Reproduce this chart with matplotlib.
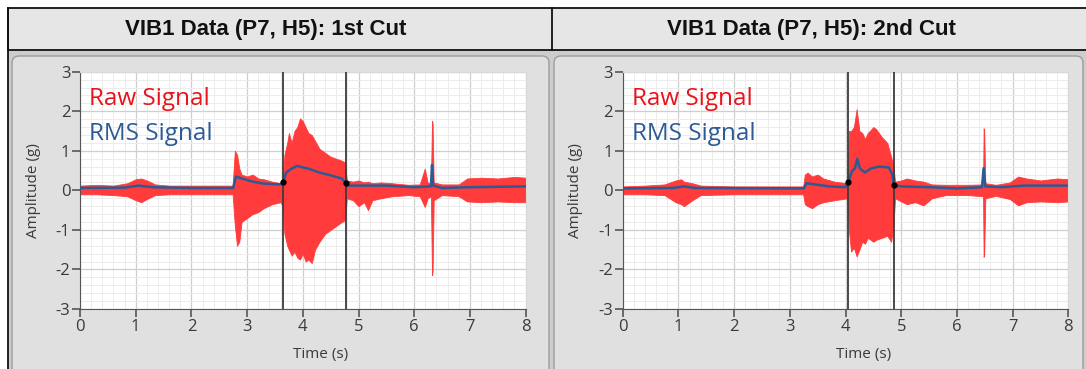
import matplotlib
matplotlib.use("Agg")
import matplotlib.pyplot as plt
import numpy as np
from matplotlib.patches import Rectangle, FancyBboxPatch
from matplotlib.ticker import MultipleLocator

plt.rcParams["axes.unicode_minus"] = False

# ---- data (envelope of raw signal + RMS trace) ----
titles = ["VIB1 Data (P7, H5): 1st Cut", "VIB1 Data (P7, H5): 2nd Cut"]

raw1_t = [0.00, 0.30, 0.60, 0.85, 1.00, 1.10, 1.20, 1.35, 1.60, 2.00, 2.40, 2.74,
          2.78, 2.82, 2.86, 2.90, 3.00, 3.10, 3.20, 3.30, 3.45, 3.60, 3.64, 3.67,
          3.72, 3.75, 3.80, 3.85, 3.90, 3.95, 4.00, 4.05, 4.10, 4.16, 4.22, 4.30,
          4.40, 4.50, 4.60, 4.70, 4.76, 4.79, 4.90, 5.00, 5.10, 5.17, 5.25, 5.40,
          5.60, 5.90, 6.10, 6.19, 6.24, 6.30, 6.32, 6.33, 6.35, 6.50, 6.80, 6.95,
          7.20, 7.50, 7.80, 8.00]
raw1_hi = [0.12, 0.14, 0.12, 0.18, 0.28, 0.30, 0.25, 0.15, 0.12, 0.12, 0.12, 0.12,
           1.00, 0.90, 0.55, 0.40, 0.35, 0.40, 0.30, 0.28, 0.22, 0.18, 0.20, 0.90,
           1.20, 1.45, 1.20, 1.50, 1.60, 1.82, 1.75, 1.60, 1.45, 1.40, 1.25, 1.05,
           0.95, 0.85, 0.80, 0.75, 0.70, 0.25, 0.22, 0.25, 0.20, 0.22, 0.18, 0.20,
           0.18, 0.14, 0.15, 0.55, 0.20, 0.15, 1.76, 1.70, 0.20, 0.15, 0.15, 0.30,
           0.32, 0.30, 0.34, 0.32]
raw1_lo = [-0.10, -0.10, -0.12, -0.15, -0.25, -0.30, -0.22, -0.12, -0.10, -0.10, -0.10, -0.10,
           -0.90, -1.40, -1.30, -0.80, -0.70, -0.60, -0.55, -0.45, -0.35, -0.30, -0.40, -1.10,
           -1.40, -1.50, -1.65, -1.55, -1.70, -1.75, -1.60, -1.80, -1.75, -1.84, -1.50, -1.30,
           -1.10, -1.00, -0.90, -0.80, -0.75, -0.20, -0.25, -0.40, -0.30, -0.50, -0.25, -0.20,
           -0.15, -0.12, -0.15, -0.42, -0.20, -0.15, -2.14, -2.05, -0.25, -0.12, -0.15, -0.28,
           -0.30, -0.28, -0.30, -0.30]

rms1_t = [0.0, 0.8, 1.05, 1.3, 2.0, 2.75, 2.80, 2.9, 3.1, 3.3, 3.6, 3.65, 3.7, 3.8, 3.9,
          4.0, 4.1, 4.3, 4.5, 4.7, 4.77, 4.8, 5.0, 5.5, 6.0, 6.3, 6.32, 6.34, 6.5, 7.0, 8.0]
rms1_v = [0.06, 0.07, 0.12, 0.08, 0.06, 0.06, 0.35, 0.30, 0.22, 0.17, 0.15, 0.22, 0.45,
          0.55, 0.62, 0.58, 0.55, 0.45, 0.38, 0.30, 0.18, 0.12, 0.12, 0.12, 0.08, 0.10,
          0.64, 0.12, 0.06, 0.08, 0.10]

raw2_t = [0.00, 0.40, 0.75, 0.95, 1.05, 1.10, 1.25, 1.40, 2.00, 2.60, 3.24, 3.27,
          3.32, 3.40, 3.50, 3.60, 3.80, 4.03, 4.06, 4.10, 4.15, 4.20, 4.25, 4.30,
          4.35, 4.40, 4.50, 4.55, 4.65, 4.75, 4.82, 4.86, 4.89, 5.00, 5.10, 5.25,
          5.40, 5.55, 5.80, 6.20, 6.47, 6.48, 6.49, 6.51, 6.70, 6.95, 7.10, 7.25,
          7.50, 7.80, 8.00]
raw2_hi = [0.10, 0.12, 0.15, 0.25, 0.28, 0.22, 0.18, 0.12, 0.10, 0.10, 0.10, 0.40,
           0.45, 0.35, 0.40, 0.30, 0.22, 0.18, 1.50, 1.50, 1.60, 2.05, 1.50, 1.45,
           1.30, 1.45, 1.60, 1.55, 1.35, 1.20, 0.85, 0.60, 0.22, 0.25, 0.30, 0.25,
           0.22, 0.15, 0.14, 0.14, 0.15, 1.57, 1.50, 0.18, 0.14, 0.20, 0.35, 0.30,
           0.25, 0.30, 0.28]
raw2_lo = [-0.10, -0.10, -0.12, -0.30, -0.35, -0.40, -0.25, -0.12, -0.10, -0.10, -0.10, -0.35,
           -0.40, -0.45, -0.35, -0.30, -0.25, -0.20, -1.00, -1.55, -1.45, -1.67, -1.50, -1.30,
           -1.35, -1.20, -1.30, -1.25, -1.20, -1.15, -1.30, -0.90, -0.20, -0.28, -0.35, -0.30,
           -0.38, -0.20, -0.12, -0.12, -0.15, -1.68, -1.60, -0.20, -0.14, -0.22, -0.38, -0.30,
           -0.28, -0.30, -0.28]

rms2_t = [0.0, 0.9, 1.1, 1.3, 3.25, 3.30, 3.45, 3.7, 4.0, 4.05, 4.12, 4.17, 4.21, 4.26,
          4.35, 4.45, 4.6, 4.78, 4.84, 4.87, 5.0, 5.5, 6.0, 6.45, 6.48, 6.51, 6.8, 7.2, 8.0]
rms2_v = [0.05, 0.06, 0.10, 0.06, 0.05, 0.18, 0.15, 0.10, 0.08, 0.22, 0.50, 0.55, 0.80,
          0.55, 0.45, 0.55, 0.60, 0.58, 0.40, 0.13, 0.10, 0.08, 0.05, 0.08, 0.56, 0.10,
          0.08, 0.12, 0.12]

cursors1 = [3.65, 4.77]
cursors2 = [4.05, 4.87]

panels = [
    (raw1_t, raw1_hi, raw1_lo, rms1_t, rms1_v, cursors1),
    (raw2_t, raw2_hi, raw2_lo, rms2_t, rms2_v, cursors2),
]

W, H = 1086, 369
RAW_RED = "#ff3b3b"
RMS_BLUE = "#2c5a94"
TXT = "#3a3a3a"

fig = plt.figure(figsize=(W / 100, H / 100), dpi=100)
fig.patch.set_facecolor("white")

# background frame drawn in pixel coords
bg = fig.add_axes([0, 0, 1, 1])
bg.set_xlim(0, W)
bg.set_ylim(H, 0)
bg.axis("off")
bg.add_patch(Rectangle((8, 50), W - 8, H - 50, facecolor="#cdcdcd", edgecolor="none"))
bg.add_patch(Rectangle((8, 8), W, 42, facecolor="#e6e6e6", edgecolor="#111111", lw=1.3))
bg.plot([552, 552], [8, 50], color="#111111", lw=1.3)
bg.plot([8, 8], [8, H], color="#111111", lw=1.3)
for x0, x1 in [(12, 549), (554, 1083)]:
    bg.add_patch(FancyBboxPatch((x0, 56), x1 - x0, H - 50, boxstyle="round,pad=0,rounding_size=7",
                                facecolor="#e0e0e0", edgecolor="#9c9c9c", lw=1.0))
bg.text(266, 29, titles[0], ha="center", va="center", fontsize=16, fontweight="bold",
        family="Liberation Sans", color="#111111")
bg.text(811, 29, titles[1], ha="center", va="center", fontsize=16, fontweight="bold",
        family="Liberation Sans", color="#111111")

ax_left = [80, 622.7]
ax_w = 445.6
ax_top, ax_bot = 71.7, 309.0

for i, (rt, rhi, rlo, mt, mv, cur) in enumerate(panels):
    ax = fig.add_axes([ax_left[i] / W, 1 - ax_bot / H, ax_w / W, (ax_bot - ax_top) / H])
    ax.set_facecolor("white")
    ax.set_xlim(0, 8)
    ax.set_ylim(-3, 3)
    ax.xaxis.set_major_locator(MultipleLocator(1))
    ax.yaxis.set_major_locator(MultipleLocator(1))
    ax.xaxis.set_minor_locator(MultipleLocator(0.2))
    ax.yaxis.set_minor_locator(MultipleLocator(0.2))
    ax.grid(which="major", color="#cfcfcf", lw=0.9)
    ax.grid(which="minor", color="#ececec", lw=0.7)
    ax.set_axisbelow(True)
    for s in ["top", "right"]:
        ax.spines[s].set_color("#d8d8d8")
    for s in ["left", "bottom"]:
        ax.spines[s].set_color("#555555")
    ax.tick_params(which="major", direction="out", length=6, width=1.2, color="#555555",
                   labelsize=12, labelcolor=TXT, pad=1)
    ax.tick_params(which="minor", length=0)
    for lab in ax.get_xticklabels() + ax.get_yticklabels():
        lab.set_family("Open Sans")

    ax.fill_between(rt, rlo, rhi, color=RAW_RED, lw=0.6, edgecolor=RAW_RED, zorder=2)
    ax.plot(mt, mv, color=RMS_BLUE, lw=1.8, zorder=3)
    for c in cur:
        ax.axvline(c, color="#3c3c3c", lw=1.3, zorder=4)
        ax.plot([c], [np.interp(c, mt, mv)], "o", color="black", ms=3.5, zorder=5)

    ax.text(0.17, 2.3, "Raw Signal", color="#e8141b", fontsize=17.5, family="Open Sans",
            va="center", ha="left", zorder=6)
    ax.text(0.17, 1.42, "RMS Signal", color=RMS_BLUE, fontsize=17.5, family="Open Sans",
            va="center", ha="left", zorder=6)

    ax.set_ylabel("Amplitude (g)", fontsize=11, family="Open Sans", color=TXT)
    ax.yaxis.set_label_coords(-0.088, 0.5)
    ax.set_xlabel("Time (s)", fontsize=11, family="Open Sans", color=TXT)
    ax.xaxis.set_label_coords(0.54, -0.16)

fig.savefig("out.png", dpi=100)
